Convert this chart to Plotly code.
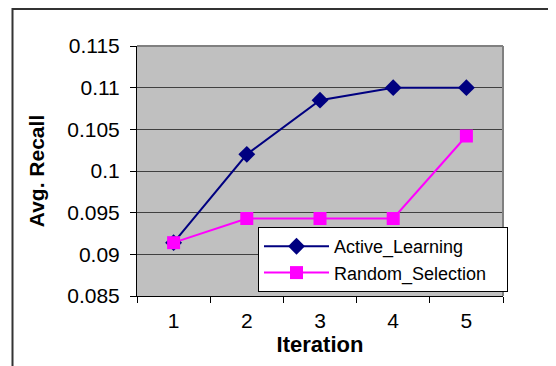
import plotly.graph_objects as go

iterations = ["1", "2", "3", "4", "5"]
active_learning = [0.0914, 0.1020, 0.1085, 0.1100, 0.1100]
random_selection = [0.0914, 0.0943, 0.0943, 0.0943, 0.1042]
y_ticks = [0.085, 0.09, 0.095, 0.1, 0.105, 0.11, 0.115]
y_tick_labels = ["0.085", "0.09", "0.095", "0.1", "0.105", "0.11", "0.115"]

OFF = 8  # default page body margin
W, H = 556 - OFF, 366 - OFF
L, R, T, B = 137 - OFF, 503 - OFF, 46 - OFF, 296 - OFF

fig = go.Figure()
fig.add_trace(go.Scatter(
    x=iterations, y=active_learning, name="Active_Learning\u00a0", mode="lines+markers",
    line=dict(color="#000080", width=2),
    marker=dict(symbol="diamond", size=13, color="#000080"),
))
fig.add_trace(go.Scatter(
    x=iterations, y=random_selection, name="Random_Selection\u00a0\u00a0\u00a0", mode="lines+markers",
    line=dict(color="#FF00FF", width=2),
    marker=dict(symbol="square", size=13, color="#FF00FF"),
))

def px2x(px):
    return (px - OFF - L) / (R - L)

def px2y(py):
    return (B - (py - OFF)) / (B - T)

shapes = [
    dict(type="line", xref="paper", yref="paper", x0=0, x1=1, y0=1, y1=1,
         line=dict(color="#808080", width=2)),
    dict(type="line", xref="paper", yref="paper", x0=1, x1=1, y0=0, y1=1,
         line=dict(color="#808080", width=2)),
    dict(type="line", xref="paper", yref="paper", x0=px2x(12), x1=px2x(570), y0=px2y(9), y1=px2y(9),
         line=dict(color="#333333", width=2)),
    dict(type="line", xref="paper", yref="paper", x0=px2x(12.5), x1=px2x(12.5), y0=px2y(8), y1=px2y(380),
         line=dict(color="#333333", width=2)),
]

fig.update_layout(
    width=W, height=H,
    margin=dict(l=L, r=W - R, t=T, b=H - B, pad=0, autoexpand=False),
    paper_bgcolor="white",
    plot_bgcolor="#C0C0C0",
    font=dict(family="Liberation Sans, Arial, sans-serif", color="black"),
    shapes=shapes,
    showlegend=True,
    legend=dict(
        x=px2x(258), y=px2y(227), xanchor="left", yanchor="top",
        bgcolor="white", bordercolor="black", borderwidth=1,
        font=dict(size=18, family="Liberation Sans, Arial, sans-serif"),
        itemwidth=65,
    ),
    xaxis=dict(
        type="category", range=[-0.5, 4.5], automargin=False,
        tickson="boundaries", ticks="outside", ticklen=6, tickcolor="black",
        showline=True, linecolor="black", linewidth=1,
        showgrid=False, zeroline=False,
        tickfont=dict(size=21),
        ticklabelstandoff=6,
        title=dict(text="<b>Iteration</b>", font=dict(size=22), standoff=2),
    ),
    yaxis=dict(
        range=[0.085, 0.115], automargin=False,
        tickvals=y_ticks, ticktext=y_tick_labels,
        ticks="outside", ticklen=6, tickcolor="black",
        showline=True, linecolor="black", linewidth=1,
        showgrid=True, gridcolor="#404040", gridwidth=1,
        zeroline=False,
        tickfont=dict(size=21),
        ticklabelstandoff=6,
        title=dict(text="<b>Avg. Recall</b>", font=dict(size=21), standoff=16),
    ),
)

fig.write_html("out.html")
